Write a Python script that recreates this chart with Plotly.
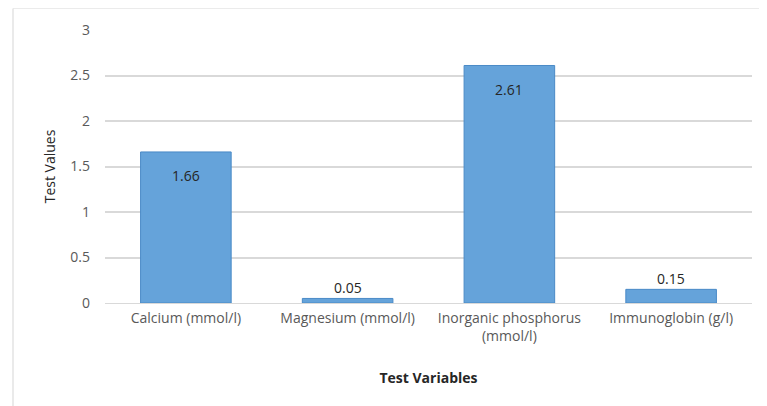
import plotly.graph_objects as go

categories = ["Calcium (mmol/l)", "Magnesium (mmol/l)", "Inorganic phosphorus<br>(mmol/l)", "Immunoglobin (g/l)"]
values = [1.66, 0.05, 2.61, 0.15]
labels = ["1.66", "0.05", "2.61", "0.15"]
y_ticks = [0, 0.5, 1, 1.5, 2, 2.5, 3]
y_tick_text = ["0", "0.5", "1", "1.5", "2", "2.5", "3"]

FONT = "Open Sans, Liberation Sans, sans-serif"

fig = go.Figure(go.Bar(
    x=categories, y=values,
    marker=dict(color="#65A3DA", line=dict(color="#4A8AC7", width=1)),
    hoverinfo="x+y",
))

# data labels: inside end for tall bars, just above for short ones
for cat, val, lab in zip(categories, values, labels):
    inside = val > 0.5
    fig.add_annotation(
        x=cat, y=val, text=lab, showarrow=False,
        yanchor="middle", yshift=-24 if inside else 11,
        font=dict(family=FONT, size=14, color="#262626"),
    )

fig.update_layout(
    width=759, height=398,
    margin=dict(l=97, r=15, t=22, b=103),
    paper_bgcolor="white", plot_bgcolor="white",
    bargap=0.44,
    showlegend=False,
    font=dict(family=FONT, size=14, color="#595959"),
    xaxis=dict(
        title=dict(text="<b>Test Variables</b>", font=dict(size=14, color="#262626"), standoff=29),
        tickfont=dict(size=14, color="#595959"),
        showline=True, linecolor="#D9D9D9", linewidth=1,
        ticks="", ticklabelstandoff=2,
    ),
    yaxis=dict(
        title=dict(text="Test Values", font=dict(size=14, color="#262626"), standoff=11),
        range=[0, 3], tickvals=y_ticks, ticktext=y_tick_text,
        tickfont=dict(size=14, color="#595959"),
        gridcolor="#D9D9D9", gridwidth=1.5, zeroline=False,
        ticks="", ticklabelstandoff=14,
    ),
    shapes=[
        dict(type="line", xref="paper", yref="paper", x0=-0.1422, x1=1.03, y0=1.0788, y1=1.0788,
             line=dict(color="#EBEBEB", width=1)),
        dict(type="line", xref="paper", yref="paper", x0=-0.1422, x1=-0.1422, y0=-0.38, y1=1.0788,
             line=dict(color="#E3E3E3", width=1.5)),
    ],
)

fig.write_html("out.html")
